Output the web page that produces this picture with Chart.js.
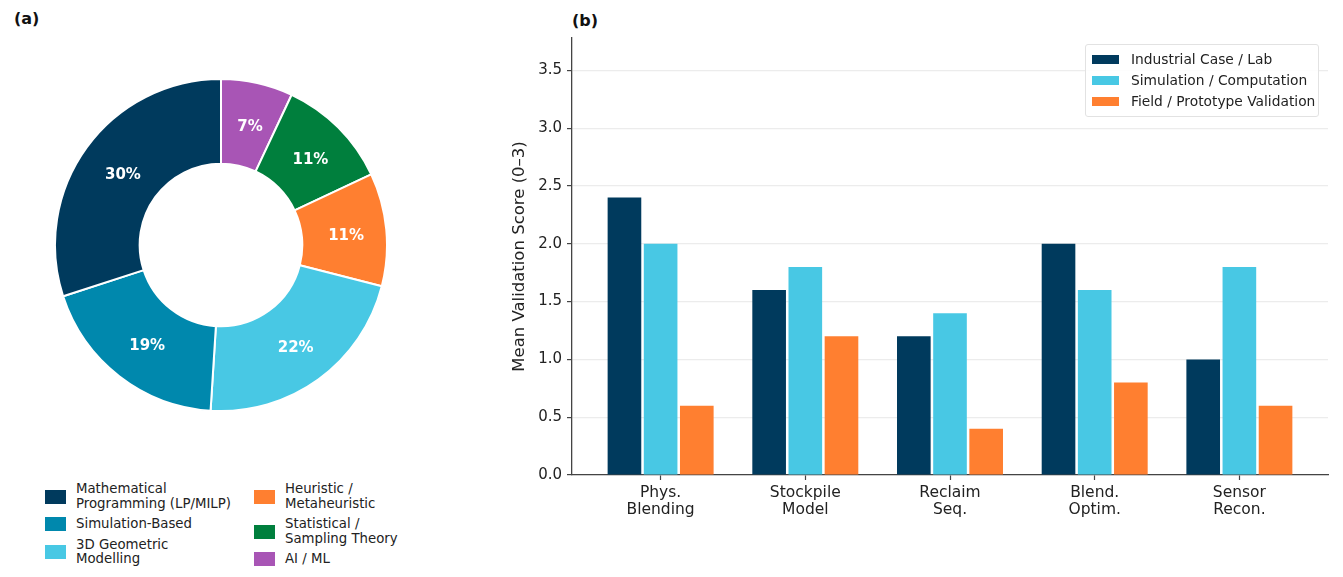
<!DOCTYPE html>
<html>
<head>
<meta charset="utf-8">
<script src="https://cdn.jsdelivr.net/npm/chart.js@4.4.1/dist/chart.umd.min.js"></script>
<style>
  body { margin: 0; background: #fff; font-family: "DejaVu Sans", sans-serif; color: #222; }
  #page { position: relative; width: 1343px; height: 577px; overflow: hidden; }
  .panel { position: absolute; font-weight: bold; font-size: 16px; color: #111; }
  #pieWrap { position: absolute; left: 54px; top: 78px; width: 334px; height: 334px; }
  #barWrap { position: absolute; left: 480px; top: 0; width: 863px; height: 577px; }
  #pieLegend { position: absolute; left: 45px; top: 482px; display: flex; gap: 0; font-size: 13.3px; line-height: 14.5px; color: #222; }
  #pieLegend .col { display: flex; flex-direction: column; gap: 6px; width: 209px; }
  #pieLegend .item { display: flex; align-items: center; }
  #pieLegend .sw { width: 21px; height: 14px; margin-right: 10px; flex: none; }
  #barLegend { position: absolute; left: 1085px; top: 44px; padding: 4px 3px 4px 6px; white-space: nowrap;
    border: 1px solid #e2e2e2; border-radius: 3px; background: rgba(255,255,255,0.9); font-size: 13.8px; line-height: 21px; color: #222; }
  #barLegend .item { display: flex; align-items: center; }
  #barLegend .sw { width: 27px; height: 9px; margin-right: 12px; flex: none; }
</style>
</head>
<body>
<div id="page">
  <div class="panel" style="left:14px;top:9px;">(a)</div>
  <div class="panel" style="left:572px;top:11px;">(b)</div>
  <div id="pieWrap"><canvas id="pieChart"></canvas></div>
  <div id="pieLegend"></div>
  <div id="barWrap"><canvas id="barChart"></canvas></div>
  <div id="barLegend"></div>
</div>
<script>
// (a) share of methods
const methodLabels = [
  ['Mathematical', 'Programming (LP/MILP)'],
  ['Simulation-Based'],
  ['3D Geometric', 'Modelling'],
  ['Heuristic /', 'Metaheuristic'],
  ['Statistical /', 'Sampling Theory'],
  ['AI / ML']
];
const methodShares = [30, 19, 22, 11, 11, 7];
const methodColors = ['#003A5D', '#0088AD', '#48C8E4', '#FF7F30', '#007F3D', '#A855B5'];

// (b) validation scores
const categories = [['Phys.', 'Blending'], ['Stockpile', 'Model'], ['Reclaim', 'Seq.'], ['Blend.', 'Optim.'], ['Sensor', 'Recon.']];
const seriesNames = ['Industrial Case / Lab', 'Simulation / Computation', 'Field / Prototype Validation'];
const industrialScores = [2.4, 1.6, 1.2, 2.0, 1.0];
const simulationScores = [2.0, 1.8, 1.4, 1.6, 1.8];
const fieldScores = [0.6, 1.2, 0.4, 0.8, 0.6];
const seriesColors = ['#003A5D', '#48C8E4', '#FF7F30'];
const yTicks = [0, 0.5, 1.0, 1.5, 2.0, 2.5, 3.0, 3.5];

Chart.defaults.font.family = '"DejaVu Sans", sans-serif';
Chart.defaults.color = '#222';

// matplotlib draws counter-clockwise from the top, Chart.js clockwise: reverse
const order = methodShares.map((_, i) => i).reverse();

const pctLabels = {
  id: 'pctLabels',
  afterDatasetsDraw(chart) {
    const ctx = chart.ctx;
    const meta = chart.getDatasetMeta(0);
    ctx.save();
    ctx.fillStyle = '#fff';
    ctx.font = 'bold 15px "DejaVu Sans", sans-serif';
    ctx.textAlign = 'center';
    ctx.textBaseline = 'middle';
    meta.data.forEach((arc, i) => {
      const p = arc.getCenterPoint();
      ctx.fillText(chart.data.datasets[0].data[i] + '%', p.x + 2, p.y + 3);
    });
    ctx.restore();
  }
};

new Chart(document.getElementById('pieChart'), {
  type: 'doughnut',
  data: {
    labels: order.map(i => methodLabels[i].join(' ')),
    datasets: [{
      data: order.map(i => methodShares[i]),
      backgroundColor: order.map(i => methodColors[i]),
      borderColor: '#fff',
      borderWidth: 2
    }]
  },
  options: {
    responsive: true,
    maintainAspectRatio: false,
    animation: false,
    cutout: '49%',
    plugins: { legend: { display: false }, tooltip: { enabled: false } }
  },
  plugins: [pctLabels]
});

// legend for (a), two columns of three
const pieLegend = document.getElementById('pieLegend');
[[0, 1, 2], [3, 4, 5]].forEach(idx => {
  const col = document.createElement('div');
  col.className = 'col';
  idx.forEach(i => {
    const it = document.createElement('div');
    it.className = 'item';
    it.innerHTML = '<span class="sw" style="background:' + methodColors[i] + '"></span><span>' + methodLabels[i].join('<br>') + '</span>';
    col.appendChild(it);
  });
  pieLegend.appendChild(col);
});

const barValues = [industrialScores, simulationScores, fieldScores];

new Chart(document.getElementById('barChart'), {
  type: 'bar',
  data: {
    datasets: seriesNames.map((name, s) => ({
      label: name,
      data: barValues[s].map((v, i) => ({ x: i, y: v })),
      backgroundColor: seriesColors[s],
      borderWidth: 0,
      categoryPercentage: 0.75,
      barPercentage: 0.93
    }))
  },
  options: {
    responsive: true,
    maintainAspectRatio: false,
    animation: false,
    layout: { padding: { left: 30, right: 15, top: 38, bottom: 0 } },
    plugins: { legend: { display: false }, tooltip: { enabled: false } },
    scales: {
      x: {
        type: 'linear',
        offset: false,
        min: -0.6125,
        max: 4.6125,
        afterBuildTicks: axis => { axis.ticks = categories.map((_, i) => ({ value: i })); },
        afterFit: scale => { scale.height = 102; },
        ticks: {
          autoSkip: false,
          maxRotation: 0,
          padding: 4,
          font: { size: 15.5, lineHeight: 1.12 },
          color: '#222',
          callback: v => categories[v]
        },
        grid: { offset: false, drawOnChartArea: false, drawTicks: true, tickLength: 5, tickColor: '#444', tickWidth: 1.2 },
        border: { color: '#444', width: 1.3 }
      },
      y: {
        min: 0,
        max: 3.78,
        afterBuildTicks: axis => { axis.ticks = yTicks.map(v => ({ value: v })); },
        afterFit: scale => { scale.width = 62; },
        ticks: {
          padding: 5,
          font: { size: 15 },
          color: '#222',
          callback: v => v.toFixed(1)
        },
        grid: { color: '#ececec', lineWidth: 1.2, tickLength: 5, tickColor: '#444', tickWidth: 1.2 },
        border: { color: '#444', width: 1.3 },
        title: { display: true, text: 'Mean Validation Score (0–3)', font: { size: 16.5 }, color: '#222', padding: 0 }
      }
    }
  }
});

// legend for (b)
const barLegend = document.getElementById('barLegend');
seriesNames.forEach((name, s) => {
  const it = document.createElement('div');
  it.className = 'item';
  it.innerHTML = '<span class="sw" style="background:' + seriesColors[s] + '"></span><span>' + name + '</span>';
  barLegend.appendChild(it);
});
</script>
</body>
</html>
